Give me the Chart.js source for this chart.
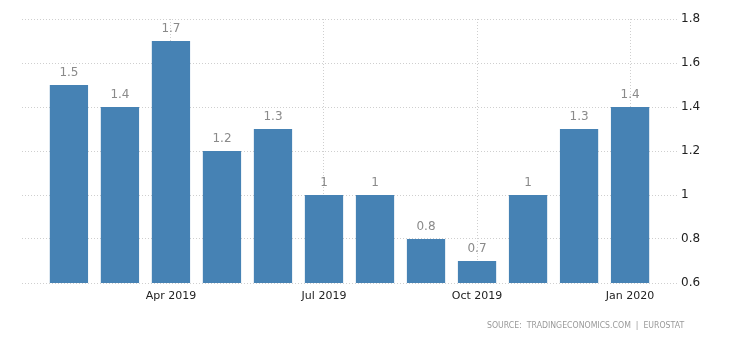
<!DOCTYPE html>
<html>
<head>
<meta charset="utf-8">
<script src="https://cdn.jsdelivr.net/npm/chart.js@4"></script>
<style>
  html, body { margin: 0; padding: 0; background: #fff; }
  #boite { position: relative; width: 730px; height: 340px; }
  #source {
    position: absolute; left: 487px; top: 319px;
    font: 9.5px "DejaVu Sans", sans-serif; color: #999;
    white-space: nowrap; transform-origin: 0 0;
  }
</style>
</head>
<body>
<div id="boite">
  <canvas id="graphique" width="730" height="340"></canvas>
  <div id="source">SOURCE:&nbsp; TRADINGECONOMICS.COM&nbsp; |&nbsp; EUROSTAT</div>
</div>
<script>
// Mois de fév. 2019 à jan. 2020 (index 0..11)
const mois = ['Feb 2019', 'Mar 2019', 'Apr 2019', 'May 2019', 'Jun 2019', 'Jul 2019',
              'Aug 2019', 'Sep 2019', 'Oct 2019', 'Nov 2019', 'Dec 2019', 'Jan 2020'];
const valeurs = [1.5, 1.4, 1.7, 1.2, 1.3, 1, 1, 0.8, 0.7, 1, 1.3, 1.4];

// Graduations affichées sous l'axe horizontal
const ticksX = [2, 5, 8, 11];
const etiquettesX = ['Apr 2019', 'Jul 2019', 'Oct 2019', 'Jan 2020'];
const ticksY = [0.6, 0.8, 1, 1.2, 1.4, 1.6, 1.8];

const BLEU = '#4682b4';
const GRILLE = '#cfcfcf';

// La mention de source est resserrée pour tenir dans la même largeur que l'original
const source = document.getElementById('source');
source.style.transform = 'scaleX(' + (197 / source.offsetWidth) + ')';

// Petites étiquettes grises au-dessus des barres
const etiquettesBarres = {
  id: 'etiquettesBarres',
  afterDatasetsDraw(chart) {
    const ctx = chart.ctx;
    ctx.save();
    ctx.font = '12px "DejaVu Sans", sans-serif';
    ctx.fillStyle = '#8a8a8a';
    ctx.textAlign = 'center';
    ctx.textBaseline = 'middle';
    chart.getDatasetMeta(0).data.forEach((barre, i) => {
      ctx.fillText(String(valeurs[i]), barre.x, barre.y - 12);
    });
    ctx.restore();
  }
};

new Chart(document.getElementById('graphique'), {
  type: 'bar',
  data: {
    datasets: [{
      data: valeurs.map((v, i) => ({ x: i, y: v })),
      backgroundColor: BLEU,
      barPercentage: 0.75,
      categoryPercentage: 1
    }]
  },
  options: {
    responsive: false,
    animation: false,
    layout: { padding: { left: 22, top: 19, right: 0, bottom: 0 } },
    plugins: { legend: { display: false }, tooltip: { enabled: false } },
    scales: {
      x: {
        type: 'linear',
        offset: false,
        min: -0.92,
        max: 11.92,
        afterBuildTicks: scale => { scale.ticks = ticksX.map(v => ({ value: v })); },
        afterFit: scale => { scale.height = 57; },
        ticks: {
          callback: (v) => etiquettesX[ticksX.indexOf(v)] ?? '',
          color: '#222',
          font: { family: 'DejaVu Sans', size: 11 },
          padding: 7,
          maxRotation: 0,
          autoSkip: false
        },
        grid: { offset: false, color: GRILLE, drawTicks: false, tickLength: 0 },
        border: { display: false, dash: [1, 2] }
      },
      y: {
        position: 'right',
        min: 0.6,
        max: 1.8,
        afterBuildTicks: scale => { scale.ticks = ticksY.map(v => ({ value: v })); },
        afterFit: scale => { scale.width = 53; },
        ticks: {
          callback: v => String(Math.round(v * 10) / 10),
          color: '#222',
          font: { family: 'DejaVu Sans', size: 12 },
          padding: 4
        },
        grid: { color: GRILLE, drawTicks: false, tickLength: 0 },
        border: { display: false, dash: [1, 2] }
      }
    }
  },
  plugins: [etiquettesBarres]
});
</script>
</body>
</html>
